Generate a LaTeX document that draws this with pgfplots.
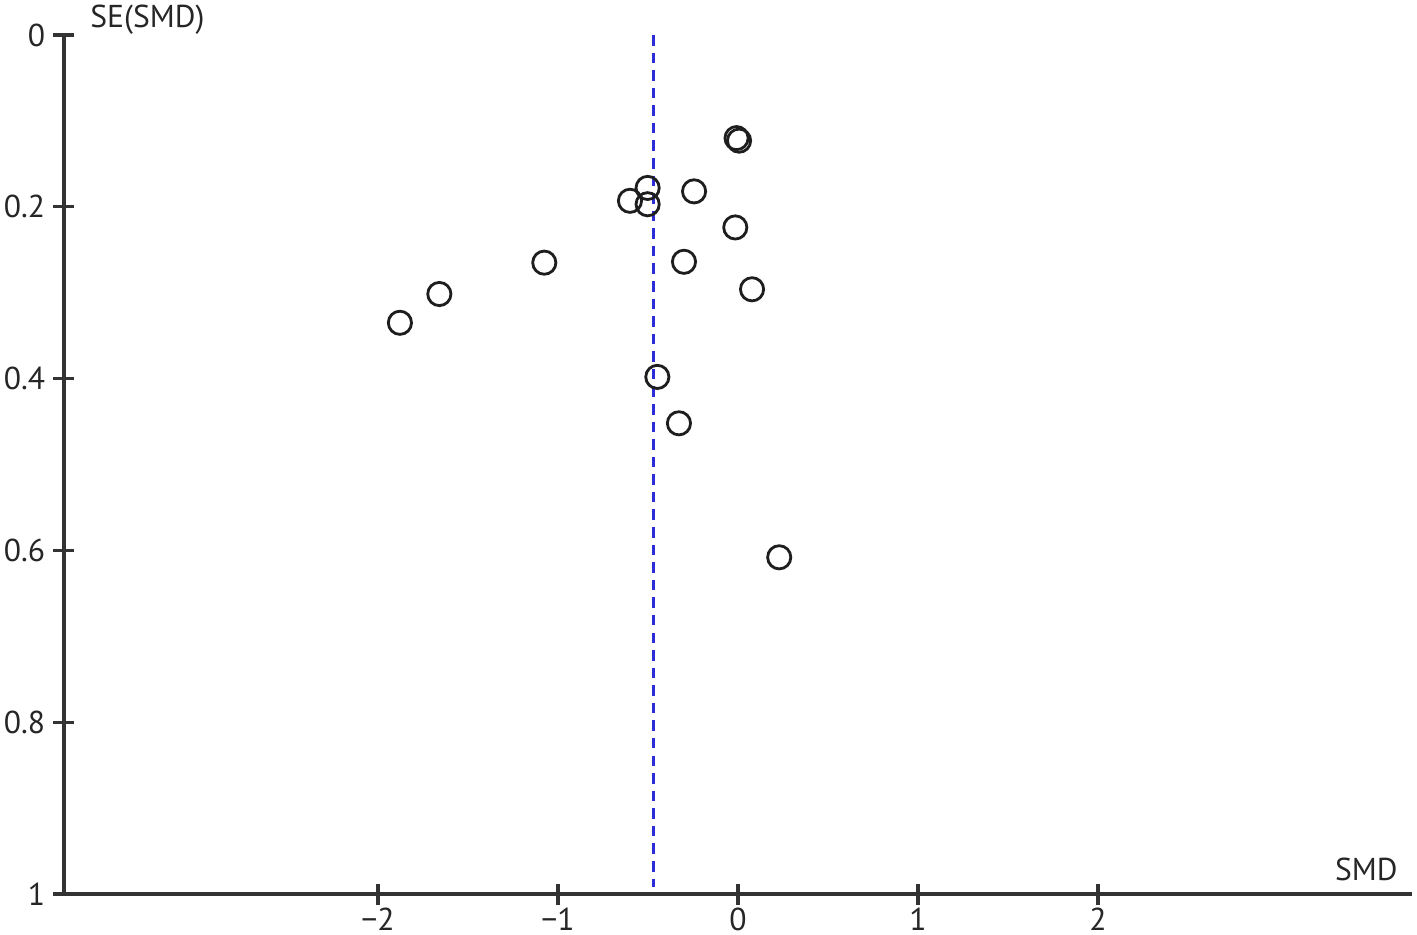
\documentclass[border=0pt]{standalone}
\usepackage{fontspec}
\setmainfont{PT Sans}
\usepackage{pgfplots}
\pgfplotsset{compat=1.18}
\definecolor{circ}{RGB}{30,30,30}
\definecolor{meanline}{RGB}{45,45,215}

\begin{document}
\begin{tikzpicture}
\path[use as bounding box] (-0.64cm,-0.40cm) rectangle (13.53cm,8.94cm);
\begin{axis}[
    name=ax,
    at={(0,0)}, anchor=south west,
    scale only axis,
    width=13.48cm, height=8.59cm,
    xmin=-3.744, xmax=3.744, ymin=0, ymax=1,
    y dir=reverse,
    axis lines=left,
    axis line style={-, line width=0.9pt, color=black!80},
    tick style={line width=0.9pt, color=black!80},
    tick align=center, major tick length=0.21cm,
    xtick={-2,-1,0,1,2}, xticklabels={−2,−1,0,1,2},
    ytick={0,0.2,0.4,0.6,0.8,1}, yticklabels={0,0.2,0.4,0.6,0.8,1},
    tick label style={font=\fontsize{9}{10}\selectfont, color=black!85},
    xticklabel style={yshift=0.09cm},
    yticklabel style={xshift=0.04cm},
    clip=false,
  ]
  % pooled estimate
  \addplot[meanline, line width=0.9pt, dash pattern=on 3pt off 2pt] coordinates {(-0.471,0) (-0.471,0.992)};
  % studies
  \addplot[only marks, mark=o, mark size=3.3pt, mark options={line width=0.8pt, draw=circ}] coordinates {
    (-0.008,0.120) (0.006,0.123)
    (-0.502,0.178) (-0.244,0.182) (-0.600,0.193) (-0.502,0.197)
    (-0.015,0.224) (-1.076,0.265) (-0.300,0.264) (0.078,0.296)
    (-1.659,0.3015) (-1.878,0.335) (-0.448,0.398) (-0.328,0.452)
    (0.229,0.608)
  };
\end{axis}
\node[anchor=base west, font=\fontsize{9}{10}\selectfont, color=black!85] at (0.14cm,8.67cm) {SE(SMD)};
\node[anchor=base east, font=\fontsize{9}{10}\selectfont, color=black!85] at (13.46cm,0.14cm) {SMD};
\end{tikzpicture}
\end{document}
